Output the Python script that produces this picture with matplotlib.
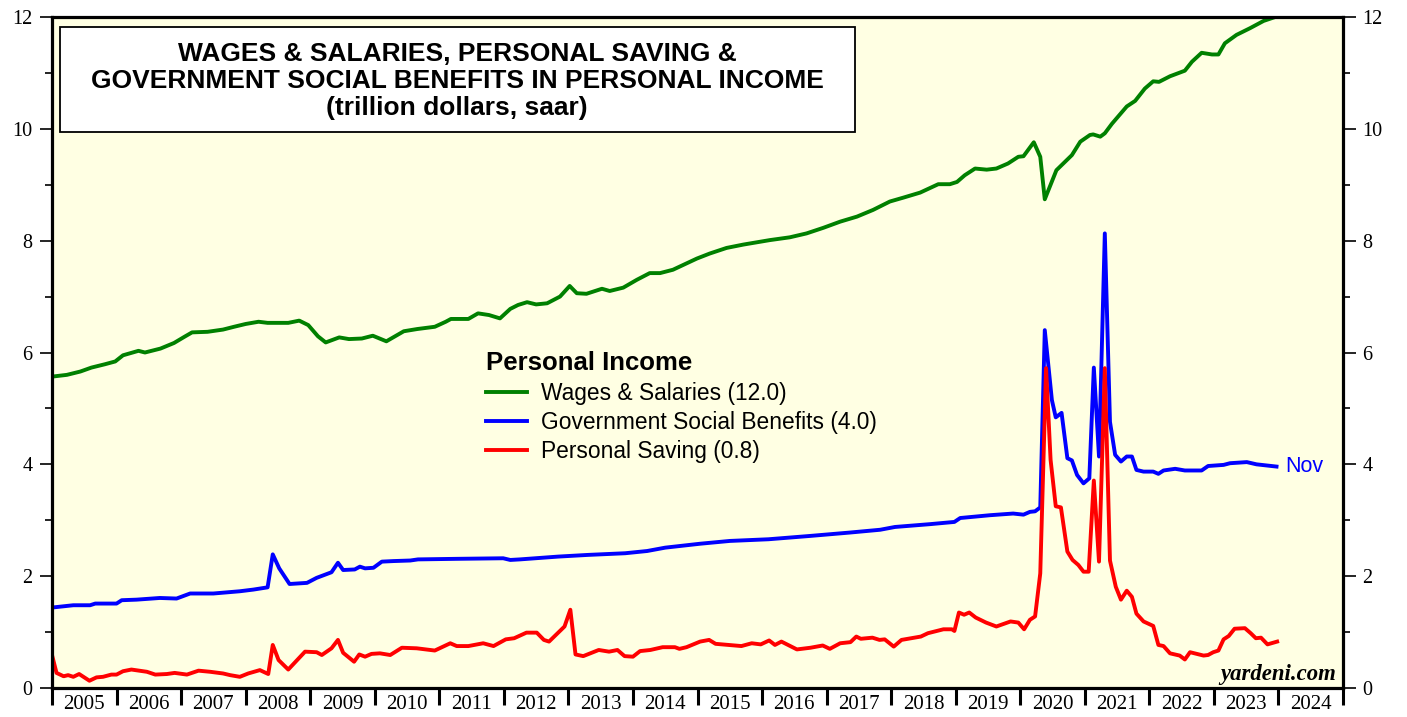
import matplotlib
matplotlib.use("Agg")
import matplotlib.pyplot as plt
from matplotlib.ticker import MultipleLocator, FixedLocator, NullFormatter, FixedFormatter
from matplotlib.patches import Rectangle

# data (decimal years, trillion dollars)
wage_x = [2005.01, 2005.23, 2005.44, 2005.61, 2005.82, 2005.98, 2006.10, 2006.25, 2006.34, 2006.44,
          2006.68, 2006.89, 2007.05, 2007.17, 2007.41, 2007.65, 2007.82, 2008.00, 2008.20, 2008.34,
          2008.66, 2008.83, 2008.97, 2009.12, 2009.24, 2009.45, 2009.60, 2009.80, 2009.97, 2010.18,
          2010.33, 2010.45, 2010.66, 2010.93, 2011.10, 2011.18, 2011.45, 2011.60, 2011.77, 2011.94,
          2012.10, 2012.22, 2012.36, 2012.50, 2012.67, 2012.87, 2013.02, 2013.13, 2013.28, 2013.52,
          2013.64, 2013.85, 2014.06, 2014.26, 2014.42, 2014.62, 2014.99, 2015.19, 2015.45, 2015.71,
          2016.12, 2016.43, 2016.69, 2016.95, 2017.21, 2017.47, 2017.72, 2017.98, 2018.19, 2018.45,
          2018.73, 2018.91, 2019.02, 2019.14, 2019.30, 2019.48, 2019.63, 2019.81, 2019.97, 2020.05,
          2020.21, 2020.31, 2020.38, 2020.56, 2020.80, 2020.93, 2021.08, 2021.13, 2021.24, 2021.31,
          2021.42, 2021.65, 2021.78, 2021.93, 2022.06, 2022.15, 2022.32, 2022.55, 2022.66, 2022.81,
          2022.97, 2023.07, 2023.17, 2023.35, 2023.56, 2023.77, 2023.95]
wage_y = [5.57, 5.60, 5.66, 5.73, 5.79, 5.84, 5.95, 6.00, 6.03, 6.00,
          6.07, 6.17, 6.28, 6.36, 6.37, 6.41, 6.46, 6.51, 6.55, 6.53,
          6.53, 6.57, 6.49, 6.29, 6.18, 6.27, 6.24, 6.25, 6.30, 6.20,
          6.30, 6.38, 6.42, 6.46, 6.55, 6.60, 6.60, 6.70, 6.67, 6.61,
          6.78, 6.85, 6.90, 6.86, 6.88, 7.00, 7.19, 7.06, 7.05, 7.14,
          7.10, 7.16, 7.30, 7.42, 7.42, 7.48, 7.68, 7.77, 7.87, 7.93,
          8.01, 8.06, 8.13, 8.23, 8.34, 8.43, 8.55, 8.70, 8.77, 8.86,
          9.01, 9.01, 9.05, 9.17, 9.29, 9.27, 9.29, 9.38, 9.50, 9.51,
          9.76, 9.50, 8.74, 9.26, 9.53, 9.77, 9.89, 9.90, 9.86, 9.92,
          10.09, 10.40, 10.50, 10.72, 10.85, 10.84, 10.94, 11.04, 11.20, 11.36,
          11.33, 11.33, 11.53, 11.68, 11.80, 11.93, 12.00]

benefit_x = [2005.01, 2005.33, 2005.59, 2005.67, 2006.00, 2006.08, 2006.31, 2006.67, 2006.93, 2007.14,
             2007.50, 2007.91, 2008.12, 2008.34, 2008.42, 2008.52, 2008.68, 2008.95, 2009.10, 2009.33,
             2009.43, 2009.51, 2009.69, 2009.77, 2009.85, 2009.98, 2010.11, 2010.29, 2010.55, 2010.67,
             2011.27, 2011.99, 2012.10, 2012.25, 2012.84, 2013.30, 2013.88, 2014.22, 2014.50, 2015.04,
             2015.50, 2016.10, 2016.75, 2017.36, 2017.83, 2018.06, 2018.60, 2018.98, 2019.07, 2019.53,
             2019.89, 2020.05, 2020.15, 2020.23, 2020.31, 2020.38, 2020.49, 2020.55, 2020.64, 2020.73,
             2020.80, 2020.88, 2020.98, 2021.07, 2021.14, 2021.22, 2021.31, 2021.39, 2021.47, 2021.56,
             2021.65, 2021.73, 2021.80, 2021.91, 2022.06, 2022.14, 2022.22, 2022.40, 2022.55, 2022.81,
             2022.91, 2023.15, 2023.25, 2023.51, 2023.66, 2023.97]
benefit_y = [1.44, 1.48, 1.48, 1.51, 1.51, 1.57, 1.58, 1.61, 1.60, 1.69,
             1.69, 1.73, 1.76, 1.80, 2.39, 2.14, 1.86, 1.88, 1.97, 2.07,
             2.24, 2.11, 2.12, 2.17, 2.14, 2.15, 2.26, 2.27, 2.28, 2.30,
             2.31, 2.32, 2.29, 2.30, 2.35, 2.38, 2.41, 2.45, 2.51, 2.58,
             2.63, 2.66, 2.72, 2.78, 2.83, 2.88, 2.93, 2.97, 3.04, 3.09,
             3.12, 3.10, 3.15, 3.16, 3.23, 6.40, 5.15, 4.84, 4.92, 4.11,
             4.07, 3.81, 3.66, 3.75, 5.73, 4.14, 8.13, 4.76, 4.17, 4.05,
             4.14, 4.14, 3.90, 3.87, 3.87, 3.83, 3.89, 3.92, 3.89, 3.89,
             3.97, 3.99, 4.02, 4.04, 4.00, 3.96]

saving_x = [2005.00, 2005.07, 2005.18, 2005.25, 2005.33, 2005.42, 2005.58, 2005.69, 2005.79, 2005.92,
            2006.00, 2006.10, 2006.23, 2006.47, 2006.60, 2006.78, 2006.90, 2007.09, 2007.27, 2007.45,
            2007.65, 2007.76, 2007.91, 2008.04, 2008.22, 2008.35, 2008.42, 2008.51, 2008.66, 2008.79,
            2008.92, 2009.10, 2009.18, 2009.33, 2009.43, 2009.51, 2009.68, 2009.76, 2009.85, 2009.95,
            2010.08, 2010.24, 2010.42, 2010.65, 2010.93, 2011.17, 2011.27, 2011.45, 2011.68, 2011.84,
            2012.03, 2012.16, 2012.35, 2012.51, 2012.62, 2012.70, 2012.94, 2013.03, 2013.11, 2013.23,
            2013.47, 2013.63, 2013.76, 2013.87, 2014.00, 2014.11, 2014.27, 2014.46, 2014.65, 2014.72,
            2014.83, 2015.04, 2015.18, 2015.28, 2015.68, 2015.84, 2015.98, 2016.11, 2016.20, 2016.30,
            2016.54, 2016.75, 2016.94, 2017.05, 2017.21, 2017.37, 2017.46, 2017.53, 2017.71, 2017.82,
            2017.90, 2018.04, 2018.16, 2018.46, 2018.57, 2018.81, 2018.94, 2018.98, 2019.05, 2019.13,
            2019.21, 2019.31, 2019.47, 2019.63, 2019.85, 2019.97, 2020.06, 2020.15, 2020.23, 2020.31,
            2020.40, 2020.47, 2020.55, 2020.63, 2020.73, 2020.81, 2020.90, 2020.98, 2021.06, 2021.14,
            2021.22, 2021.31, 2021.39, 2021.48, 2021.56, 2021.65, 2021.73, 2021.80, 2021.91, 2022.06,
            2022.14, 2022.22, 2022.32, 2022.47, 2022.55, 2022.63, 2022.84, 2022.91, 2022.99, 2023.07,
            2023.15, 2023.23, 2023.32, 2023.48, 2023.57, 2023.65, 2023.73, 2023.83, 2023.98]
saving_y = [0.59, 0.27, 0.21, 0.23, 0.20, 0.25, 0.13, 0.19, 0.20, 0.24,
            0.24, 0.30, 0.33, 0.29, 0.24, 0.25, 0.27, 0.24, 0.31, 0.29,
            0.26, 0.23, 0.20, 0.26, 0.32, 0.25, 0.77, 0.50, 0.33, 0.49,
            0.65, 0.64, 0.59, 0.71, 0.86, 0.63, 0.47, 0.60, 0.56, 0.61,
            0.62, 0.59, 0.72, 0.71, 0.67, 0.80, 0.75, 0.75, 0.80, 0.75,
            0.87, 0.89, 0.99, 0.99, 0.86, 0.83, 1.10, 1.40, 0.60, 0.57,
            0.68, 0.65, 0.68, 0.57, 0.56, 0.66, 0.68, 0.73, 0.73, 0.70,
            0.73, 0.83, 0.86, 0.79, 0.75, 0.80, 0.78, 0.85, 0.77, 0.83,
            0.69, 0.72, 0.76, 0.70, 0.80, 0.82, 0.92, 0.88, 0.90, 0.86,
            0.87, 0.74, 0.86, 0.92, 0.98, 1.05, 1.05, 1.02, 1.35, 1.31,
            1.35, 1.26, 1.17, 1.10, 1.19, 1.17, 1.05, 1.22, 1.28, 2.05,
            5.72, 4.08, 3.25, 3.23, 2.44, 2.29, 2.20, 2.08, 2.08, 3.71,
            2.26, 5.72, 2.28, 1.81, 1.58, 1.74, 1.63, 1.33, 1.19, 1.11,
            0.77, 0.75, 0.62, 0.58, 0.51, 0.64, 0.58, 0.59, 0.64, 0.67,
            0.87, 0.93, 1.06, 1.07, 0.98, 0.89, 0.90, 0.78, 0.83]

years = list(range(2005, 2025))
legend_labels = ["Wages & Salaries (12.0)", "Government Social Benefits (4.0)", "Personal Saving (0.8)"]

serif = "Liberation Serif"
sans = "Liberation Sans"
lw = 2.8

fig = plt.figure(figsize=(14.07, 7.17), dpi=100)
ax = fig.add_axes([52 / 1407, 29 / 717, 1291 / 1407, 671 / 717])
ax.set_facecolor("#FFFFE3")

ax.plot(wage_x, wage_y, color="#008000", lw=lw, label=legend_labels[0])
ax.plot(benefit_x, benefit_y, color="#0000FF", lw=lw, label=legend_labels[1])
ax.plot(saving_x, saving_y, color="#FF0000", lw=lw, label=legend_labels[2])

ax.set_xlim(2005, 2025)
ax.set_ylim(0, 12)

for s in ax.spines.values():
    s.set_linewidth(2.3)

# y axis: labels both sides
ax.yaxis.set_major_locator(MultipleLocator(2))
ax.yaxis.set_minor_locator(MultipleLocator(1))
ax.yaxis.set_ticks_position("both")
ax.tick_params(axis="y", which="major", direction="out", length=9, width=1.2,
               labelleft=True, labelright=True, labelsize=14.5, pad=5)
ax.tick_params(axis="y", which="minor", direction="out", length=5, width=1.2)
for lab in ax.get_yticklabels():
    lab.set_fontfamily(serif)

# x axis: ticks at year boundaries, labels mid-year
ax.xaxis.set_major_locator(FixedLocator(list(range(2005, 2026))))
ax.xaxis.set_major_formatter(NullFormatter())
ax.xaxis.set_minor_locator(FixedLocator([y + 0.5 for y in years]))
ax.xaxis.set_minor_formatter(FixedFormatter([str(y) for y in years]))
ax.tick_params(axis="x", which="major", direction="out", length=12, width=2.2)
ax.tick_params(axis="x", which="minor", length=0, labelsize=15, pad=5)
for lab in ax.get_xticklabels(minor=True):
    lab.set_fontfamily(serif)

# title box
fig.patches.append(Rectangle((60 / 1407, 1 - 132 / 717), 795 / 1407, 105 / 717,
                             transform=fig.transFigure, facecolor="white",
                             edgecolor="black", lw=1.3, zorder=3))
title_lines = ["WAGES & SALARIES, PERSONAL SAVING &",
               "GOVERNMENT SOCIAL BENEFITS IN PERSONAL INCOME",
               "(trillion dollars, saar)"]
for i, t in enumerate(title_lines):
    fig.text(457 / 1407, 1 - (54 + 27 * i) / 717, t, ha="center", va="center",
             fontsize=19, fontweight="bold", family=sans, zorder=4)

leg = ax.legend(loc="upper left", bbox_to_anchor=(475 / 1407, 1 - 340 / 717),
                bbox_transform=fig.transFigure, frameon=False, borderpad=0,
                handlelength=1.8, handletextpad=0.6, labelspacing=0.27,
                prop={"family": sans, "size": 16.4}, title="Personal Income",
                title_fontproperties={"family": sans, "size": 18.5, "weight": "bold"})
leg._legend_box.align = "left"
for h in leg.get_lines():
    h.set_linewidth(lw)

ax.annotate("Nov", xy=(benefit_x[-1], benefit_y[-1]), xytext=(6, 0),
            textcoords="offset points", va="center", ha="left",
            color="#0000FF", fontsize=15.5, family=sans)

ax.text(0.995, 0.004, "yardeni.com", transform=ax.transAxes, ha="right", va="bottom",
        fontsize=16.4, fontweight="bold", fontstyle="italic", family=serif)

fig.savefig("out.png", dpi=100)
